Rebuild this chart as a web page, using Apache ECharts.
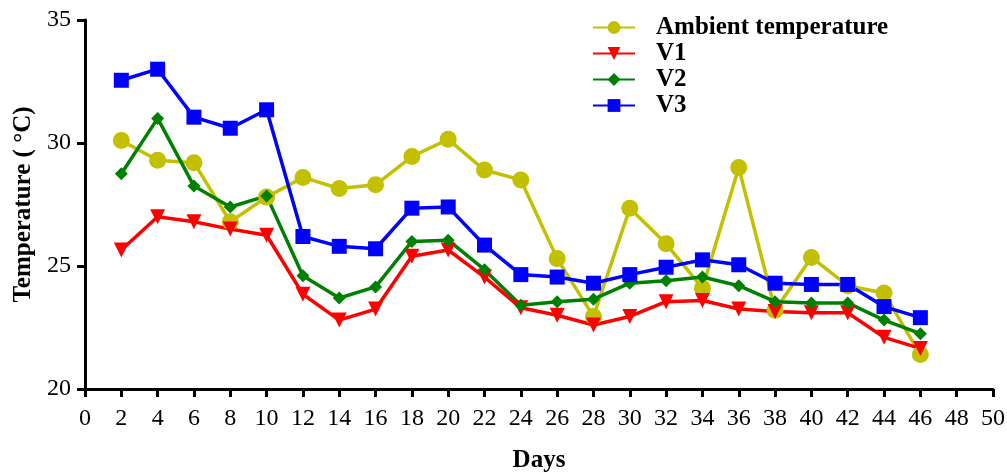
<!DOCTYPE html>
<html>
<head>
<meta charset="utf-8">
<script src="https://cdn.jsdelivr.net/npm/echarts@6/dist/echarts.min.js"></script>
<style>
  html, body { margin: 0; padding: 0; background: #fff; }
  #chart { width: 1007px; height: 472px; }
</style>
</head>
<body>
<div id="chart"></div>
<script>
// Sampling days
const days = [2, 4, 6, 8, 10, 12, 14, 16, 18, 20, 22, 24, 26, 28, 30, 32, 34, 36, 38, 40, 42, 44, 46];

// Temperatures (°C)
const ambient = [30.1, 29.3, 29.2, 26.8, 27.8, 28.6, 28.15, 28.3, 29.45, 30.15, 28.9, 28.5, 25.3, 22.95, 27.35, 25.9, 24.1, 29.0, 23.2, 25.35, 24.2, 23.9, 21.4];
const v1 = [25.65, 27.0, 26.8, 26.5, 26.25, 23.85, 22.8, 23.25, 25.4, 25.65, 24.55, 23.3, 23.0, 22.6, 22.95, 23.55, 23.6, 23.25, 23.15, 23.1, 23.1, 22.1, 21.65];
const v2 = [28.75, 31.0, 28.25, 27.4, 27.85, 24.6, 23.7, 24.15, 26.0, 26.05, 24.85, 23.4, 23.55, 23.65, 24.3, 24.4, 24.55, 24.2, 23.55, 23.5, 23.5, 22.8, 22.25];
const v3 = [32.55, 33.0, 31.05, 30.6, 31.35, 26.2, 25.8, 25.7, 27.35, 27.4, 25.85, 24.65, 24.55, 24.3, 24.65, 24.95, 25.25, 25.05, 24.3, 24.25, 24.25, 23.35, 22.9];

const seriesNames = ['Ambient temperature', 'V1', 'V2', 'V3'];

const pair = (vals) => days.map((d, i) => [d, vals[i]]);
const font = '"Liberation Serif", "Times New Roman", serif';

function lineSeries(name, vals, color, symbol, size, rotate) {
  return {
    name: name,
    type: 'line',
    data: pair(vals),
    symbol: symbol,
    symbolSize: size,
    symbolRotate: rotate || 0,
    lineStyle: { color: color, width: 3.5 },
    itemStyle: { color: color },
    emphasis: { disabled: true },
    animation: false
  };
}

const chart = echarts.init(document.getElementById('chart'));
chart.setOption({
  backgroundColor: '#fff',
  animation: false,
  grid: { left: 85, right: 14, top: 20, bottom: 83, containLabel: false, outerBoundsMode: 'none' },
  legend: {
    orient: 'vertical',
    left: 587,
    top: 10,
    itemWidth: 42,
    itemHeight: 16,
    itemGap: 1,
    data: seriesNames,
    textStyle: {
      fontFamily: font,
      fontWeight: 'bold',
      fontSize: 25,
      lineHeight: 24,
      color: '#000',
      padding: [0, 0, 0, 16]
    }
  },
  xAxis: {
    type: 'value',
    min: 0,
    max: 50,
    interval: 2,
    name: 'Days',
    nameLocation: 'middle',
    nameGap: 59,
    nameTextStyle: { fontFamily: font, fontWeight: 'bold', fontSize: 25, color: '#000' },
    splitLine: { show: false },
    axisLine: { lineStyle: { color: '#000', width: 3 } },
    axisTick: { length: 8, lineStyle: { color: '#000', width: 3 } },
    axisLabel: { fontFamily: font, fontSize: 24, color: '#000', margin: 18 }
  },
  yAxis: {
    type: 'value',
    min: 20,
    max: 35,
    interval: 5,
    name: 'Temperature ( °C)',
    nameLocation: 'middle',
    nameRotate: 90,
    nameGap: 48,
    nameTextStyle: { fontFamily: font, fontWeight: 'bold', fontSize: 25, color: '#000' },
    splitLine: { show: false },
    axisLine: { show: true, lineStyle: { color: '#000', width: 3 } },
    axisTick: { show: true, length: 8, lineStyle: { color: '#000', width: 3 } },
    axisLabel: { fontFamily: font, fontSize: 24, color: '#000', margin: 14 }
  },
  series: [
    lineSeries(seriesNames[0], ambient, '#c2c000', 'circle', 17),
    lineSeries(seriesNames[1], v1, '#ff0000', 'triangle', 15, 180),
    lineSeries(seriesNames[2], v2, '#008000', 'diamond', 13),
    lineSeries(seriesNames[3], v3, '#0000ff', 'rect', 15)
  ]
});
</script>
</body>
</html>
